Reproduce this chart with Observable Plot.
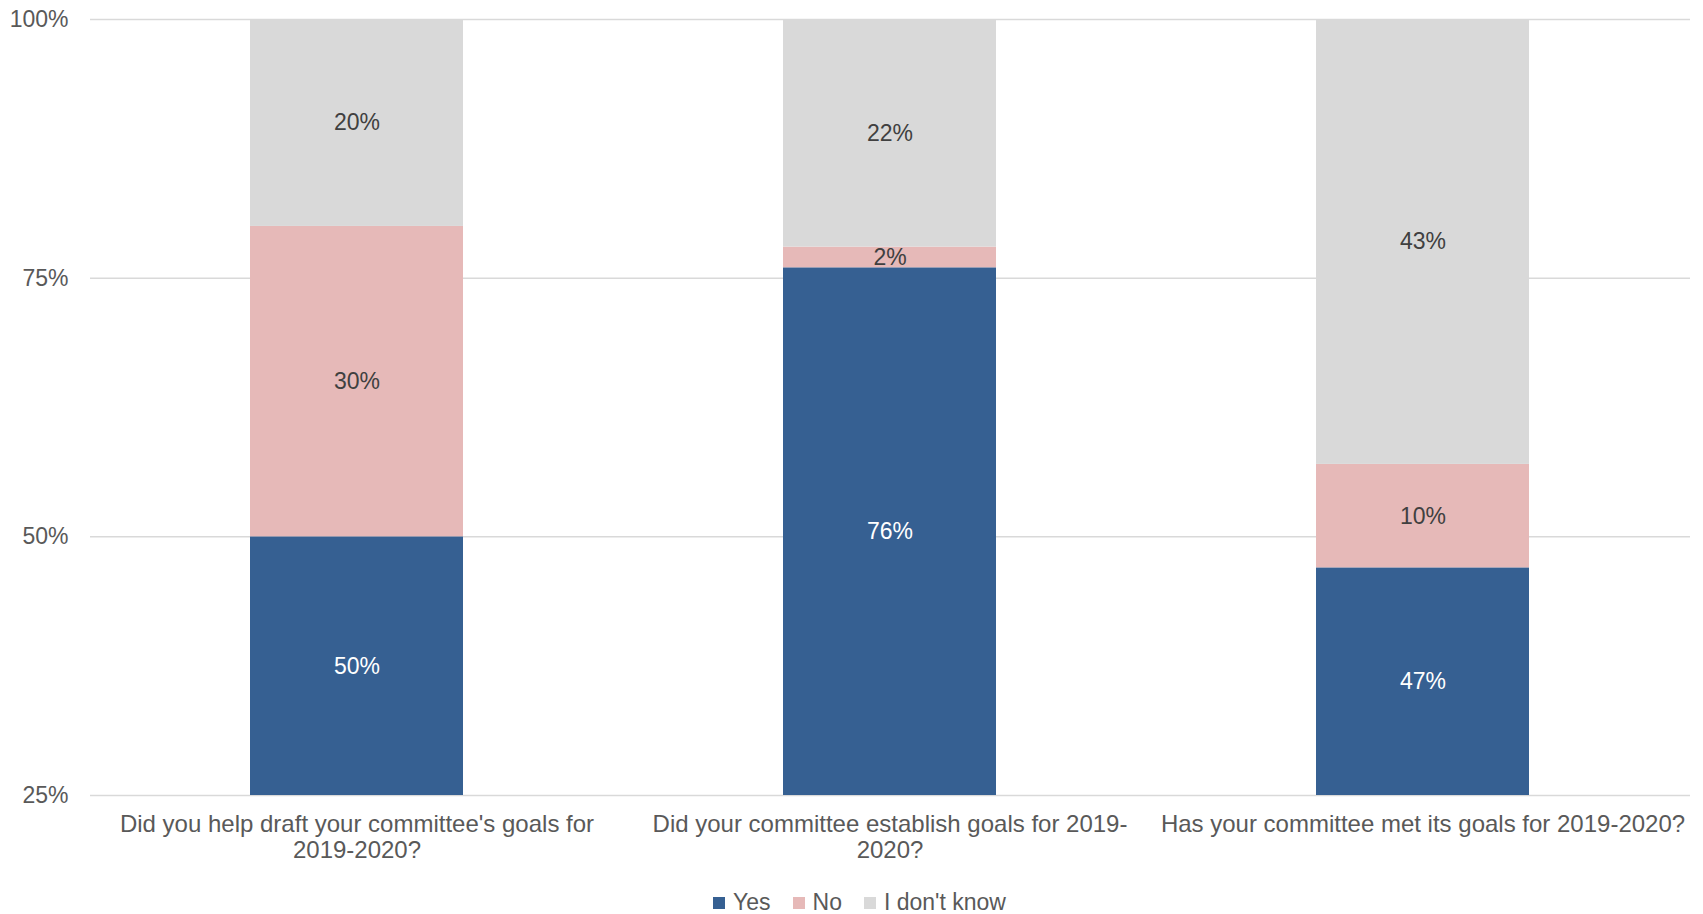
<!DOCTYPE html>
<html>
<head>
<meta charset="utf-8">
<script src="https://cdn.jsdelivr.net/npm/d3@7"></script>
<script src="https://cdn.jsdelivr.net/npm/@observablehq/plot@0.6"></script>
<style>
  html, body { margin: 0; padding: 0; background: #fff; }
  body { position: relative; width: 1703px; height: 914px; overflow: hidden; font-family: "Liberation Sans", Arial, sans-serif; }
  #legend { position: absolute; top: 891px; left: 713px; display: flex; align-items: center; font-size: 23px; line-height: 23px; color: #595959; }
  #legend .item { display: flex; align-items: center; margin-right: 22px; }
  #legend .sw { width: 12px; height: 12px; margin-right: 8px; display: inline-block; }
</style>
</head>
<body>
<div id="chart"></div>
<div id="legend"></div>
<script>
const categories = [
  "Did you help draft your committee's goals for 2019-2020?",
  "Did your committee establish goals for 2019-2020?",
  "Has your committee met its goals for 2019-2020?"
];
const series = ["Yes", "No", "I don't know"];
const yesValues = [50, 76, 47];
const noValues = [30, 2, 10];
const idkValues = [20, 22, 43];
const yTicks = [25, 50, 75, 100];
const yDomain = [25, 100];
const seriesColors = ["#366092", "#E6B9B8", "#D9D9D9"];

const valuesBySeries = [yesValues, noValues, idkValues];
const rows = [];
categories.forEach((cat, i) => {
  let base = 0;
  series.forEach((s, j) => {
    const v = valuesBySeries[j][i];
    const y1 = base, y2 = base + v;
    rows.push({category: cat, series: s, value: v, y1, y2, ymid: (Math.max(y1, yDomain[0]) + y2) / 2});
    base = y2;
  });
});

// wrap category labels like the spreadsheet does (break at spaces or after hyphens)
const ctx = document.createElement("canvas").getContext("2d");
ctx.font = "24px 'Liberation Sans', Arial, sans-serif";
function wrap(label, maxWidth) {
  const tokens = label.match(/[^\s-]+-?|\s+/g);
  const lines = [];
  let line = "";
  for (const tok of tokens) {
    const cand = line + tok;
    if (line && !/^\s+$/.test(tok) && ctx.measureText(cand.trimEnd()).width > maxWidth) {
      lines.push(line.trimEnd());
      line = tok;
    } else {
      line = cand;
    }
  }
  if (line.trim()) lines.push(line.trimEnd());
  return lines.join("\n");
}

const chart = Plot.plot({
  width: 1703,
  height: 880,
  marginTop: 19,
  marginBottom: 85,
  marginLeft: 90,
  marginRight: 13,
  style: {fontFamily: "'Liberation Sans', Arial, sans-serif", color: "#595959", background: "white"},
  x: {domain: categories, paddingInner: 0.6, paddingOuter: 0.3, label: null},
  y: {domain: yDomain, clamp: true, label: null},
  color: {domain: series, range: seriesColors},
  marks: [
    Plot.ruleY(yTicks, {stroke: "#d9d9d9", strokeWidth: 1.5}),
    Plot.barY(rows, {x: "category", y1: "y1", y2: "y2", fill: "series"}),
    Plot.text(rows.filter(d => d.series === "Yes"), {x: "category", y: "ymid", text: d => d.value + "%", fill: "white", fontSize: 23}),
    Plot.text(rows.filter(d => d.series !== "Yes"), {x: "category", y: "ymid", text: d => d.value + "%", fill: "#404040", fontSize: 23}),
    Plot.axisY({ticks: yTicks, tickFormat: d => d + "%", tickSize: 0, tickPadding: 22, fontSize: 23, label: null}),
    Plot.axisX({tickSize: 0, tickPadding: 18, fontSize: 24, lineHeight: 1.08, tickFormat: d => wrap(d, 530), label: null})
  ]
});
document.getElementById("chart").appendChild(chart);

const legend = document.getElementById("legend");
series.forEach((s, j) => {
  const item = document.createElement("div");
  item.className = "item";
  const sw = document.createElement("span");
  sw.className = "sw";
  sw.style.background = seriesColors[j];
  const t = document.createElement("span");
  t.textContent = s;
  item.appendChild(sw);
  item.appendChild(t);
  legend.appendChild(item);
});
</script>
</body>
</html>
